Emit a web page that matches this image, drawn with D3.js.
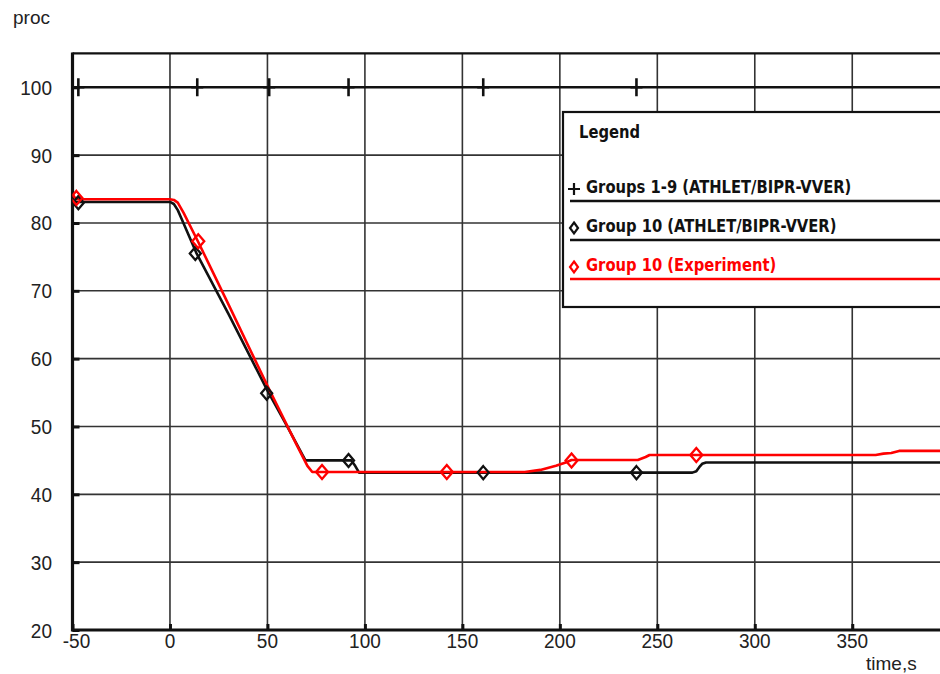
<!DOCTYPE html>
<html>
<head>
<meta charset="utf-8">
<script src="https://cdn.jsdelivr.net/npm/d3@7"></script>
<style>
  html, body { margin: 0; padding: 0; background: #fff; }
  svg { display: block; }
  .tick-label { font-family: "Liberation Sans", Arial, sans-serif; font-size: 19px; fill: #222; }
  .legend-text { font-family: "DejaVu Sans Condensed", "DejaVu Sans", sans-serif; font-weight: bold; font-size: 16.4px; }
</style>
</head>
<body>
<script>
// ---- data ----
var xTicks = [-50, 0, 50, 100, 150, 200, 250, 300, 350];
var yTicks = [20, 30, 40, 50, 60, 70, 80, 90, 100];

// Groups 1-9 (ATHLET/BIPR-VVER)
var groups19Time  = [-50, 400];
var groups19Value = [100, 100];
var groups19MarkTime = [-47, 14, 50.9, 91.6, 160.7, 239.3];

// Group 10 (ATHLET/BIPR-VVER)
var group10Time  = [-50, 0, 2, 4, 6, 13.5, 30, 50, 60, 69.5, 93, 95, 97, 268, 270, 271.5, 273, 275, 400];
var group10Value = [83.1, 83.1, 82.8, 81.9, 80.6, 75.6, 66.6, 55.3, 50.1, 45.0, 45.0, 44.2, 43.2, 43.2, 43.4, 44.0, 44.5, 44.7, 44.7];
var group10MarkTime  = [-47, 13, 49.6, 91.6, 160.7, 239.3];
var group10MarkValue = [83.0, 75.5, 54.9, 45.0, 43.2, 43.2];

// Group 10 (Experiment)
var expTime  = [-50, -49, -48, 0, 2, 4, 7, 14.5, 30, 50, 65, 70.5, 73, 182, 190, 198, 203, 206, 240, 244, 246, 362, 366, 370, 374, 400];
var expValue = [84.3, 83.8, 83.5, 83.5, 83.4, 83.0, 81.5, 77.2, 68.0, 56.0, 47.3, 44.2, 43.3, 43.3, 43.6, 44.2, 44.7, 45.05, 45.05, 45.5, 45.8, 45.8, 46.0, 46.1, 46.4, 46.4];
var expMarkTime  = [-48, 14.5, 78, 142, 206, 270];
var expMarkValue = [83.7, 77.3, 43.3, 43.3, 45.0, 45.8];

var legendNames = ["Groups 1-9 (ATHLET/BIPR-VVER)", "Group 10 (ATHLET/BIPR-VVER)", "Group 10 (Experiment)"];

// ---- layout ----
var W = 940, H = 674;
var svg = d3.select("body").append("svg").attr("width", W).attr("height", H);

var x = d3.scaleLinear().domain([-50, 400]).range([72.5, 72.5 + 450 * 1.9494]);
var y = d3.scaleLinear().domain([20, 105]).range([630, 53.4]);

svg.append("clipPath").attr("id", "plot")
  .append("rect").attr("x", x(-50)).attr("y", y(105) - 3).attr("width", W - x(-50)).attr("height", y(20) - y(105) + 6);

// grid
var grid = svg.append("g");
grid.selectAll(".vg").data(xTicks.slice(1)).enter().append("line")
  .attr("x1", function(d){ return x(d); }).attr("x2", function(d){ return x(d); })
  .attr("y1", y(105)).attr("y2", y(20))
  .style("stroke", "#333").style("stroke-width", 1.6);
grid.selectAll(".hg").data(yTicks.slice(1)).enter().append("line")
  .attr("x1", x(-50)).attr("x2", W)
  .attr("y1", function(d){ return y(d); }).attr("y2", function(d){ return y(d); })
  .style("stroke", "#333").style("stroke-width", 1.6);
// top border
svg.append("line").attr("x1", x(-50)).attr("x2", W).attr("y1", y(105)).attr("y2", y(105))
  .style("stroke", "#111").style("stroke-width", 2.2);

// axes (thick lines with short inward ticks)
var xAxis = d3.axisBottom(x).tickValues(xTicks).tickSizeInner(-6).tickSizeOuter(0).tickFormat("");
svg.append("g").attr("transform", "translate(0," + y(20) + ")").call(xAxis)
  .call(function(g){
    g.select(".domain").remove();
    g.selectAll(".tick line").style("stroke", "#111").style("stroke-width", 3);
  });
var yAxis = d3.axisLeft(y).tickValues(yTicks).tickSizeInner(-7).tickSizeOuter(0).tickFormat("");
svg.append("g").attr("transform", "translate(" + x(-50) + ",0)").call(yAxis)
  .call(function(g){
    g.select(".domain").remove();
    g.selectAll(".tick line").style("stroke", "#111").style("stroke-width", 3);
  });
svg.append("line").attr("x1", x(-50)).attr("x2", W).attr("y1", y(20)).attr("y2", y(20))
  .style("stroke", "#111").style("stroke-width", 3);
svg.append("line").attr("x1", x(-50)).attr("x2", x(-50)).attr("y1", y(105) - 1).attr("y2", y(20) + 1.5)
  .style("stroke", "#111").style("stroke-width", 3.2);

// tick labels
svg.selectAll(".xl").data(xTicks).enter().append("text").attr("class", "tick-label")
  .attr("transform", function(d){ return "translate(" + (x(d) + (d < 0 ? 4 : 0)) + "," + (y(20) + 18) + ") scale(1,1.08)"; })
  .attr("text-anchor", "middle").text(function(d){ return d; });
svg.selectAll(".yl").data(yTicks).enter().append("text").attr("class", "tick-label")
  .attr("transform", function(d){ return "translate(52," + (y(d) + 7.5) + ") scale(1,1.08)"; })
  .attr("text-anchor", "end").text(function(d){ return d; });
svg.append("text").attr("class", "tick-label").attr("x", 13).attr("y", 24).text("proc");
svg.append("text").attr("class", "tick-label").attr("x", 866).attr("y", 670).text("time,s");

// series
var plot = svg.append("g").attr("clip-path", "url(#plot)");
function series(t, v, color){
  var pts = t.map(function(d, i){ return [d, v[i]]; });
  plot.append("path").datum(pts)
    .attr("d", d3.line().x(function(d){ return x(d[0]); }).y(function(d){ return y(d[1]); }))
    .style("fill", "none").style("stroke", color).style("stroke-width", 2.6)
    .style("stroke-linejoin", "round");
}
function diamonds(t, v, color, sym){
  plot.selectAll(null).data(t).enter().append("path")
    .attr("d", sym)
    .attr("transform", function(d, i){ return "translate(" + x(d) + "," + y(v[i]) + ")"; })
    .style("fill", "none").style("stroke", color).style("stroke-width", 2.3);
}
function pluses(t, val){
  plot.selectAll(null).data(t).enter().append("path")
    .attr("d", "M0,-9V9M-6,0H6")
    .attr("transform", function(d){ return "translate(" + x(d) + "," + y(val) + ")"; })
    .style("fill", "none").style("stroke", "#111").style("stroke-width", 2.6);
}

series(groups19Time, groups19Value, "#111");
pluses(groups19MarkTime, 100);
series(group10Time, group10Value, "#111");
series(expTime, expValue, "#ff0000");
diamonds(group10MarkTime, group10MarkValue, "#111", "M0,-6.5L5.5,0L0,6.5L-5.5,0Z");
diamonds(expMarkTime, expMarkValue, "#ff0000", "M0,-7L6,0L0,7L-6,0Z");

// legend
var lg = svg.append("g");
lg.append("rect").attr("x", 563).attr("y", 112).attr("width", 400).attr("height", 195)
  .style("fill", "#fff").style("stroke", "#111").style("stroke-width", 2.2);
lg.append("text").attr("class", "legend-text").attr("transform", "translate(579,138) scale(1,1.12)")
  .style("fill", "#111").text("Legend");
var legColors = ["#111", "#111", "#ff0000"];
var legY = [193, 232, 271];
legendNames.forEach(function(name, i){
  var c = legColors[i];
  lg.append("text").attr("class", "legend-text")
    .attr("transform", "translate(586," + legY[i] + ") scale(1,1.12)")
    .style("fill", c).text(name);
  lg.append("line").attr("x1", 570).attr("x2", W).attr("y1", legY[i] + 8).attr("y2", legY[i] + 8)
    .style("stroke", c).style("stroke-width", 2.4);
  var sym = i === 0 ? "M0,-6V6M-6,0H6" : "M0,-5.5L4,0L0,5.5L-4,0Z";
  lg.append("path").attr("d", sym)
    .attr("transform", "translate(574," + (legY[i] - 4) + ")")
    .style("fill", "none").style("stroke", c).style("stroke-width", 2.2);
});
</script>
</body>
</html>
